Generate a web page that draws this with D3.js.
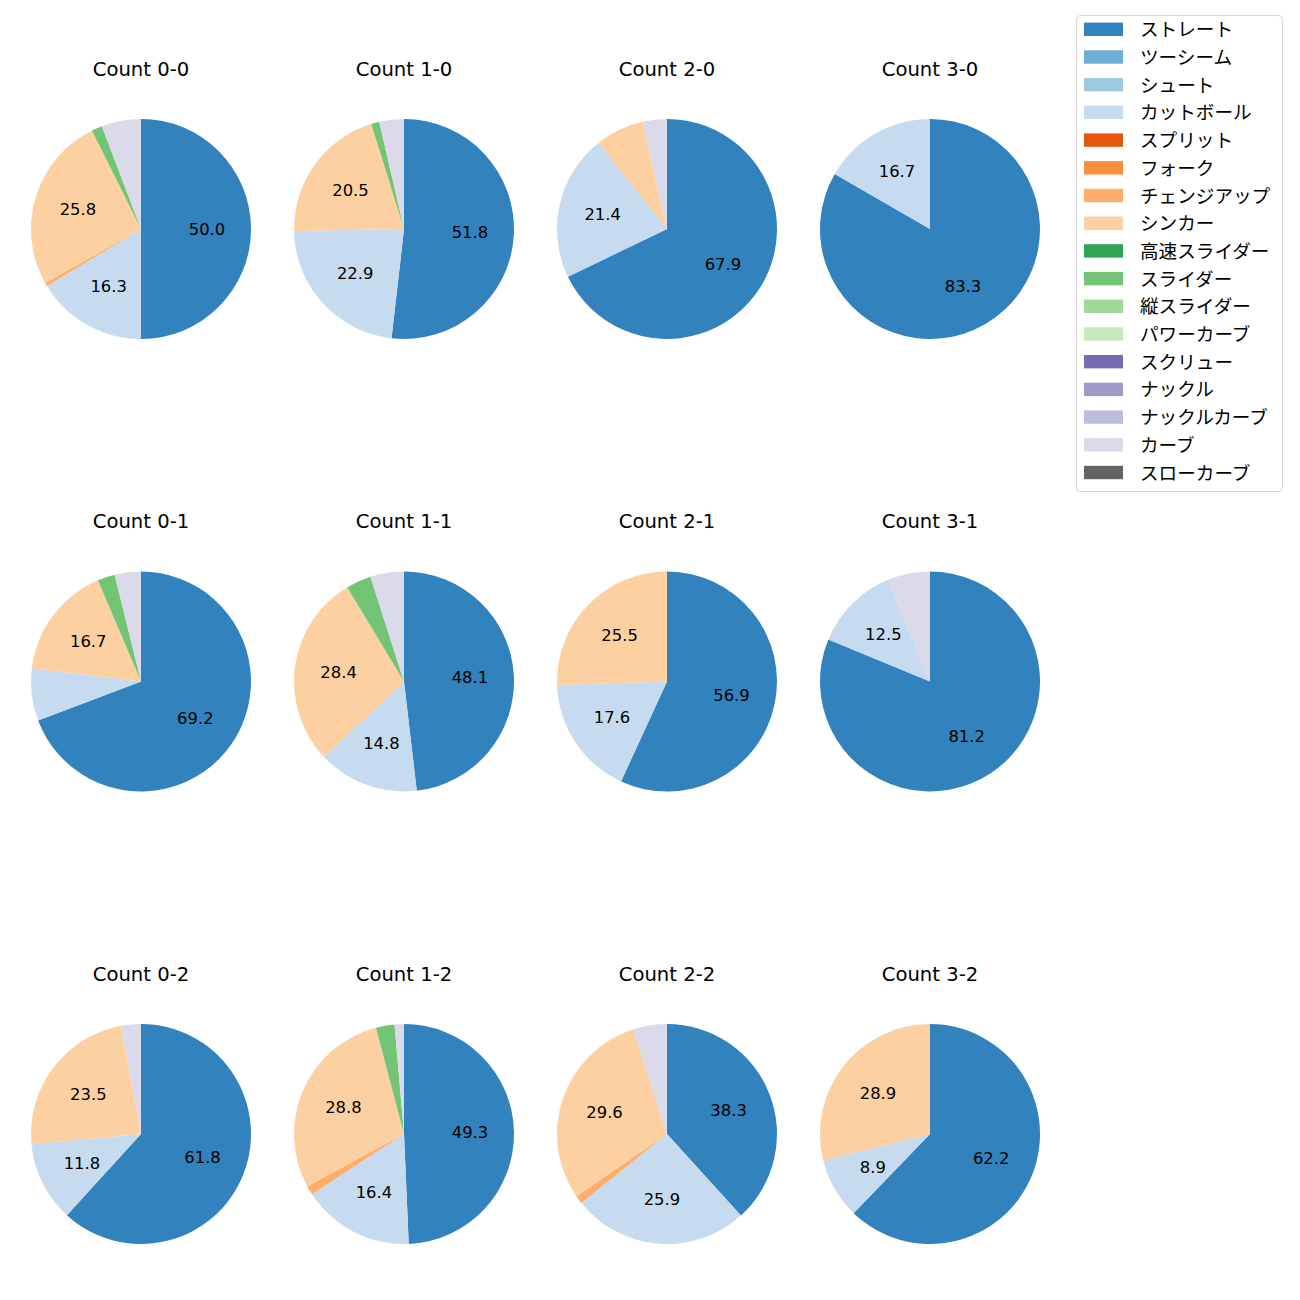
<!DOCTYPE html>
<html><head><meta charset="utf-8">
<script src="https://cdn.jsdelivr.net/npm/d3@7"></script>
<style>body{margin:0;background:#fff}svg{display:block}
.lat{font-family:"DejaVu Sans","Noto Sans CJK JP",sans-serif}
.jp{font-family:"Noto Sans CJK JP","Noto Sans",sans-serif}</style>
</head><body><svg id="c" width="1300" height="1300"></svg>
<script>
const pitchNames = ["ストレート","ツーシーム","シュート","カットボール","スプリット","フォーク","チェンジアップ","シンカー","高速スライダー","スライダー","縦スライダー","パワーカーブ","スクリュー","ナックル","ナックルカーブ","カーブ","スローカーブ"];
const pitchColors = ["#3182bd","#6baed6","#9ecae1","#c6dbef","#e6550d","#fd8d3c","#fdae6b","#fdd0a2","#31a354","#74c476","#a1d99b","#c7e9c0","#756bb1","#9e9ac8","#bcbddc","#dadaeb","#636363"];
const countTitles = ["Count 0-0","Count 1-0","Count 2-0","Count 3-0","Count 0-1","Count 1-1","Count 2-1","Count 3-1","Count 0-2","Count 1-2","Count 2-2","Count 3-2"];
// pitch counts per ball-strike count, in pitchNames order
const c00 = [95,0,0,31,0,0,1,49,0,3,0,0,0,0,0,11,0];
const c10 = [43,0,0,19,0,0,0,17,0,1,0,0,0,0,0,3,0];
const c20 = [19,0,0,6,0,0,0,2,0,0,0,0,0,0,0,1,0];
const c30 = [5,0,0,1,0,0,0,0,0,0,0,0,0,0,0,0,0];
const c01 = [54,0,0,6,0,0,0,13,0,2,0,0,0,0,0,3,0];
const c11 = [39,0,0,12,0,0,0,23,0,3,0,0,0,0,0,4,0];
const c21 = [29,0,0,9,0,0,0,13,0,0,0,0,0,0,0,0,0];
const c31 = [13,0,0,2,0,0,0,0,0,0,0,0,0,0,0,1,0];
const c02 = [21,0,0,4,0,0,0,8,0,0,0,0,0,0,0,1,0];
const c12 = [36,0,0,12,0,0,1,21,0,2,0,0,0,0,0,1,0];
const c22 = [31,0,0,21,0,0,1,24,0,0,0,0,0,0,0,4,0];
const c32 = [28,0,0,4,0,0,0,13,0,0,0,0,0,0,0,0,0];
const countValues = [c00,c10,c20,c30,c01,c11,c21,c31,c02,c12,c22,c32];

// python-like %.1f (round half to even)
function fmt1(x){
  const t = x*10, f = Math.floor(t), d = t - f;
  let n;
  if (Math.abs(d-0.5) < 1e-9) n = (f%2===0) ? f : f+1; else n = Math.round(t);
  return (n/10).toFixed(1);
}

const svg = d3.select("#c");
const colX = d3.scalePoint().domain([0,1,2,3]).range([141,930]);
const rowY = d3.scalePoint().domain([0,1,2]).range([229,1134]);
const R = 110;
const color = d3.scaleOrdinal().domain(pitchNames).range(pitchColors);
const pie = d3.pie().sort(null).value(d=>d.v).startAngle(0).endAngle(2*Math.PI);
const arc = d3.arc().innerRadius(0).outerRadius(R);
const labelArc = d3.arc().innerRadius(R*0.6).outerRadius(R*0.6);

countValues.forEach((vals,i)=>{
  const cx = colX(i%4), cy = rowY(Math.floor(i/4));
  const total = d3.sum(vals);
  const data = vals.map((v,j)=>({name:pitchNames[j],v})).filter(d=>d.v>0);
  const g = svg.append("g").attr("transform",`translate(${cx},${cy})`);
  const arcs = pie(data);
  g.selectAll("path").data(arcs).join("path").attr("d",arc).attr("fill",d=>color(d.data.name));
  g.selectAll("text.l").data(arcs.filter(d=>d.data.v/total*100>8)).join("text").attr("class","l lat")
    .attr("transform",d=>`translate(${labelArc.centroid(d)})`)
    .attr("text-anchor","middle").attr("dominant-baseline","central")
    .attr("font-size","16.4px").attr("fill","#000")
    .text(d=>fmt1(d.data.v/total*100));
  svg.append("text").attr("class","lat").attr("x",cx).attr("y",cy-160).attr("text-anchor","middle")
    .attr("dominant-baseline","central").attr("font-size","19.6px").attr("fill","#000")
    .text(countTitles[i]);
});

// legend
const lg = svg.append("g");
lg.append("rect").attr("x",1076.5).attr("y",15.5).attr("width",206).attr("height",476).attr("rx",4)
  .attr("fill","#fff").attr("stroke","#d6d6d6").attr("stroke-width",1);
const ly = d3.scaleLinear().domain([0,16]).range([29.3,472.5]);
pitchNames.forEach((n,j)=>{
  lg.append("rect").attr("x",1084).attr("y",ly(j)-6.7).attr("width",39).attr("height",13.4).attr("fill",color(n));
  lg.append("text").attr("class","jp").attr("x",1140).attr("y",ly(j)-1.5).attr("dominant-baseline","central")
    .attr("font-size","18.6px").attr("fill","#000").text(n);
});
</script></body></html>
